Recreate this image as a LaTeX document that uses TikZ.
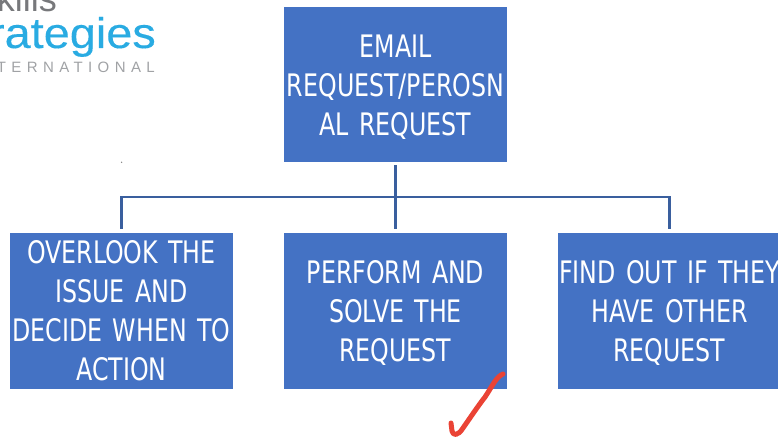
\documentclass[tikz,border=0pt]{standalone}
\usepackage{fontspec}
\setmainfont[FakeStretch=0.85]{DejaVu Sans Condensed}
\newfontfamily\logofont{Liberation Sans}
\newfontfamily\logoblack[FakeStretch=1.09,FakeBold=0.25]{Liberation Sans}
\newfontfamily\logospaced[LetterSpace=36]{Liberation Sans}
\newcommand{\firstline}{\rule{0pt}{27pt}}
\definecolor{boxblue}{HTML}{4472C4}
\definecolor{linkblue}{HTML}{3A5F9E}
\definecolor{logoblue}{HTML}{29ABE2}
\definecolor{logogray}{HTML}{77787B}
\definecolor{logolight}{HTML}{A0A2A5}
\definecolor{tickred}{HTML}{EA4335}
\tikzset{
  box/.style={fill=boxblue,draw=none,text=white,minimum height=#1,minimum width=223pt,text width=223pt,inner sep=0pt,align=center,
    font=\fontsize{31}{39}\selectfont},
  link/.style={draw=linkblue,line width=2.6pt},
  logo/.style={inner sep=0pt,anchor=base east}
}
\begin{document}
\begin{tikzpicture}[x=1pt,y=-1pt]
\useasboundingbox (0,0) rectangle (778,441);
\clip (0,0) rectangle (778,441);
% logo
\node[logo,text=logogray,font=\logofont\fontsize{36}{36}\selectfont] (skills) at (57,12) {Skills};
\node[logo,text=logoblue,font=\logoblack\fontsize{43}{43}\selectfont] (strategies) at (156,48) {Strategies};
\node[logo,text=logolight,font=\logospaced\fontsize{15}{15}\selectfont] (intl) at (155,73) {INTERNATIONAL};
% boxes
\node[box=155pt] (top) at (395.5,84.5) {\firstline EMAIL\\REQUEST/PEROSN\\AL REQUEST};
\node[box=156pt] (left) at (121.5,311) {OVERLOOK THE\\ISSUE AND\\DECIDE WHEN TO\\ACTION};
\node[box=156pt] (mid) at (395.5,311) {\firstline PERFORM AND\\SOLVE THE\\REQUEST};
\node[box=156pt] (right) at (669.5,311) {\firstline FIND OUT IF THEY\\HAVE OTHER\\REQUEST};
% connectors
\coordinate (bus) at (395.5,197);
\draw[link,shorten <=3pt,shorten >=4pt] (top.south) -- (mid.north);
\draw[link,shorten >=4pt] (bus) -| (left.north);
\draw[link,shorten >=4pt] (bus) -| (right.north);
% speck
\fill[gray] (121.6,162.3) circle (0.8pt);
% hand-drawn tick
\draw[tickred,line width=5pt,line cap=round,line join=round]
  (503,374) .. controls (496,377) and (493,385) .. (485,397)
  .. controls (478,406) and (470,418) .. (463,428)
  .. controls (458,436) and (453,436) .. (452,431)
  -- (451,423);
\end{tikzpicture}
\end{document}
